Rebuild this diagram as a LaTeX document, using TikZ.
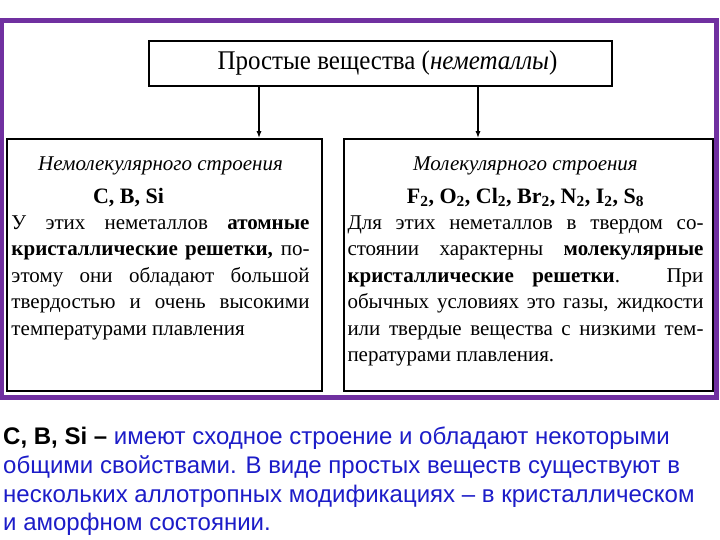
\documentclass[tikz,border=0pt]{standalone}
\usepackage{fontspec}
\setmainfont{Liberation Serif}
\newfontfamily\titlefont[FakeStretch=0.925]{Liberation Serif}
\newfontfamily\notefont{Liberation Sans}
\usetikzlibrary{positioning,arrows.meta}
\definecolor{framepurple}{RGB}{112,48,160}
\definecolor{noteblue}{RGB}{28,28,200}
\setlength{\parindent}{0pt}

\begin{document}
\begin{tikzpicture}[x=1pt,y=-1pt,>={Latex[length=7pt,width=5pt]},
  box/.style={draw,line width=1.6pt,inner sep=0pt},
  body/.style={inner sep=0pt,align=justify,font=\fontsize{21}{26.5}\selectfont}]
  \useasboundingbox (0,0) rectangle (720,540);
  \draw[framepurple,line width=5pt] (1.5,20.5) rectangle (716.5,397);
  \node[box,minimum width=463pt,minimum height=45pt,font=\titlefont\fontsize{27}{30}\selectfont] (simple) at (380.5,63.5)
    {\hspace*{14pt}\raisebox{-3pt}{Простые вещества (\textit{неметаллы})}};
  \node[box,minimum width=315pt,minimum height=252pt] (nonmol) at (164.5,265) {};
  \node[box,minimum width=369pt,minimum height=252pt] (mol) at (528.5,265) {};
  \coordinate (la) at (259,0);
  \coordinate (ra) at (478,0);
  \draw[->,line width=1.8pt] (simple.south -| la) -- (nonmol.north -| la);
  \draw[->,line width=1.8pt] (simple.south -| ra) -- (mol.north -| ra);
  % texts inside the two boxes
  \node[body,text width=298pt,below=18pt of nonmol.north,xshift=-4pt] (nonmoltxt) {%
    \centerline{\itshape Немолекулярного строения}\vspace{7pt}
    \centerline{\fontsize{22}{28}\selectfont\bfseries\hspace{-64pt}C, B, Si}\vspace{-1pt}
    У этих неметаллов \textbf{атомные}\linebreak
    \textbf{кристаллические решетки,} по-\linebreak
    этому они обладают большой\linebreak
    твердостью и очень высокими\linebreak
    температурами плавления};
  \node[body,text width=356pt,below=18pt of mol.north,xshift=-3pt] (moltxt) {%
    \centerline{\itshape Молекулярного строения}\vspace{7pt}
    \centerline{\fontsize{22}{28}\selectfont\bfseries F\textsubscript{2}, O\textsubscript{2}, Cl\textsubscript{2}, Br\textsubscript{2}, N\textsubscript{2}, I\textsubscript{2}, S\textsubscript{8}}\vspace{-1pt}
    Для этих неметаллов в твердом со-\linebreak
    стоянии характерны \textbf{молекулярные}\linebreak
    \textbf{кристаллические решетки}. При\linebreak
    обычных условиях это газы, жидкости\linebreak
    или твердые вещества с низкими тем-\linebreak
    пературами плавления.};
  % note under the frame
  \node[anchor=north west,inner sep=0pt,align=left,text=noteblue,
    font=\notefont\fontsize{24}{28.7}\selectfont] (note) at (3,427)
    {\textcolor{black}{\textbf{C, B, Si –}} имеют сходное строение и обладают некоторыми\\
     общими свойствами. В виде простых веществ существуют в\\
     нескольких аллотропных модификациях – в кристаллическом\\
     и аморфном состоянии.};
\end{tikzpicture}
\end{document}
